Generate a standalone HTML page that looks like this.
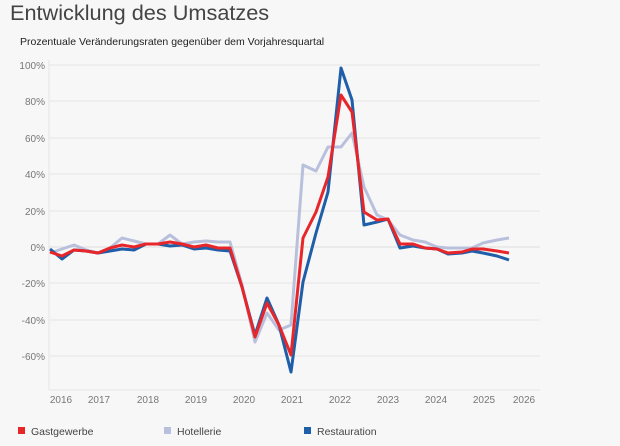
<!DOCTYPE html>
<html><head><meta charset="utf-8"><style>
body{margin:0;background:#f7f7f7;width:620px;height:441px;overflow:hidden;font-family:"Liberation Sans",sans-serif}
</style></head><body>
<svg width="620" height="441" xmlns="http://www.w3.org/2000/svg" font-family="Liberation Sans, sans-serif">
<rect width="620" height="441" fill="#f7f7f7"/>
<text x="10" y="20" font-size="21.7" fill="#444">Entwicklung des Umsatzes</text>
<text x="20" y="45" font-size="10.5" fill="#222">Prozentuale Veränderungsraten gegenüber dem Vorjahresquartal</text>
<g stroke="#e6e6e6" stroke-width="1">
<line x1="49" x2="540" y1="65" y2="65"/><line x1="49" x2="540" y1="101" y2="101"/><line x1="49" x2="540" y1="138" y2="138"/><line x1="49" x2="540" y1="174" y2="174"/><line x1="49" x2="540" y1="211" y2="211"/><line x1="49" x2="540" y1="247" y2="247" stroke="#ddd"/><line x1="49" x2="540" y1="283" y2="283"/><line x1="49" x2="540" y1="320" y2="320"/><line x1="49" x2="540" y1="356" y2="356"/><line x1="49" x2="540" y1="390" y2="390"/><line x1="49" x2="49" y1="60" y2="390"/>
</g>
<g font-size="10" fill="#777" text-anchor="end">
<text x="45" y="69">100%</text><text x="45" y="105">80%</text><text x="45" y="142">60%</text><text x="45" y="178">40%</text><text x="45" y="215">20%</text><text x="45" y="251">0%</text><text x="45" y="287">-20%</text><text x="45" y="324">-40%</text><text x="45" y="360">-60%</text>
</g>
<g font-size="10" fill="#777" text-anchor="middle">
<text x="61" y="403">2016</text><text x="99" y="403">2017</text><text x="148" y="403">2018</text><text x="196" y="403">2019</text><text x="244" y="403">2020</text><text x="292" y="403">2021</text><text x="340" y="403">2022</text><text x="388" y="403">2023</text><text x="436" y="403">2024</text><text x="484" y="403">2025</text><text x="524" y="403">2026</text>
</g>
<g fill="none" stroke-width="3" stroke-linejoin="round">
<polyline stroke="#b9c0dc" points="50,253 62,249 74,245 86,250 98,253 110,248 122,238 134,241 146,244 158,244 170,235 182,244 194,242 206,241 218,242 230,242 242,285 255,342 267,313 279,330 291,325 303,165 316,171 328,147 341,147 352,133 364,187 377,215 388,220 400,235 413,240 425,242 437,247 448,248 462,248 472,248 483,243 497,240 509,238"/>
<polyline stroke="#1f5ea8" points="50,249 62,259 74,250 86,251 98,253 110,251 122,249 134,250 146,244 158,244 170,246 182,245 194,249 206,248 218,250 230,251 242,287 255,335 267,298 279,325 291,372 303,282 316,233 328,192 341,68 352,100 364,225 377,222 388,219 400,248 413,246 425,248 437,249 448,254 462,253 472,251 483,253 497,256 509,260"/>
<polyline stroke="#e8262a" points="50,252 62,256 74,250 86,251 98,253 110,248 122,245 134,247 146,244 158,244 170,242 182,244 194,247 206,245 218,248 230,248 242,287 255,337 267,303 279,325 291,355 303,238 316,212 328,177 341,95 352,112 364,212 377,220 388,219 400,244 413,244 425,248 437,249 448,253 462,252 472,249 483,249 497,251 509,253"/>
</g>
<rect x="18" y="427" width="7" height="7" fill="#e8262a"/><text x="31" y="435" font-size="10.5" fill="#444">Gastgewerbe</text>
<rect x="164" y="427" width="7" height="7" fill="#b9c0dc"/><text x="177" y="435" font-size="10.5" fill="#444">Hotellerie</text>
<rect x="304" y="427" width="7" height="7" fill="#1f5ea8"/><text x="317" y="435" font-size="10.5" fill="#444">Restauration</text>
</svg>
</body></html>
